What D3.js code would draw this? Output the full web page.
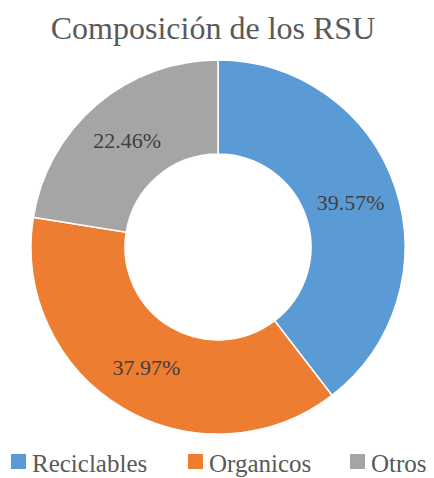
<!DOCTYPE html>
<html>
<head>
<meta charset="utf-8">
<script src="https://cdn.jsdelivr.net/npm/d3@7"></script>
<style>
  body { margin: 0; background: #fff; }
  text { font-family: 'Liberation Serif' !important; }
</style>
</head>
<body>
<svg id="chart" width="434" height="478"></svg>
<script>
const categories = ['Reciclables', 'Organicos', 'Otros'];
const values = [39.57, 37.97, 22.46];
const colors = ['#5B9BD5', '#ED7D31', '#A5A5A5'];
const chartTitle = 'Composición de los RSU';

const WIDTH = 434;
const HEIGHT = 478;
const CX = 218;
const CY = 247;
const OUTER = 187;
const INNER = 93;

const svg = d3.select('#chart').attr('font-family', 'Liberation Serif');

svg.append('text')
  .attr('x', 213)
  .attr('y', 39)
  .attr('text-anchor', 'middle')
  .attr('font-family', 'Liberation Serif')
  .attr('font-size', 32)
  .attr('fill', '#595959')
  .text(chartTitle);

const pie = d3.pie().sort(null).value((d) => d.value);
const arc = d3.arc().innerRadius(INNER).outerRadius(OUTER);
const labelArc = d3.arc().innerRadius((INNER + OUTER) / 2).outerRadius((INNER + OUTER) / 2);

const data = categories.map((c, i) => ({ name: c, value: values[i], color: colors[i] }));
const g = svg.append('g').attr('transform', `translate(${CX}, ${CY})`);

const slices = g.selectAll('g.slice')
  .data(pie(data))
  .join('g')
  .attr('class', 'slice');

slices.append('path')
  .attr('d', arc)
  .attr('fill', (d) => d.data.color)
  .attr('stroke', '#fff')
  .attr('stroke-width', 1.5);

slices.append('text')
  .attr('transform', (d) => `translate(${labelArc.centroid(d)})`)
  .attr('text-anchor', 'middle')
  .attr('dy', '0.35em')
  .attr('font-family', 'Liberation Serif')
  .attr('font-size', 22)
  .attr('fill', '#404040')
  .text((d) => `${d.data.value.toFixed(2)}%`);

// legend
const legend = svg.append('g').attr('transform', `translate(0, ${HEIGHT - 6})`);
const legendX = [11, 188, 350];
const items = legend.selectAll('g')
  .data(data)
  .join('g')
  .attr('transform', (d, i) => `translate(${legendX[i]}, 0)`);

items.append('rect')
  .attr('x', 0)
  .attr('y', -18)
  .attr('width', 15)
  .attr('height', 15)
  .attr('fill', (d) => d.color);

items.append('text')
  .attr('x', 21)
  .attr('y', 0)
  .attr('font-family', 'Liberation Serif')
  .attr('font-size', 25)
  .attr('fill', '#595959')
  .text((d) => d.name);
</script>
</body>
</html>
